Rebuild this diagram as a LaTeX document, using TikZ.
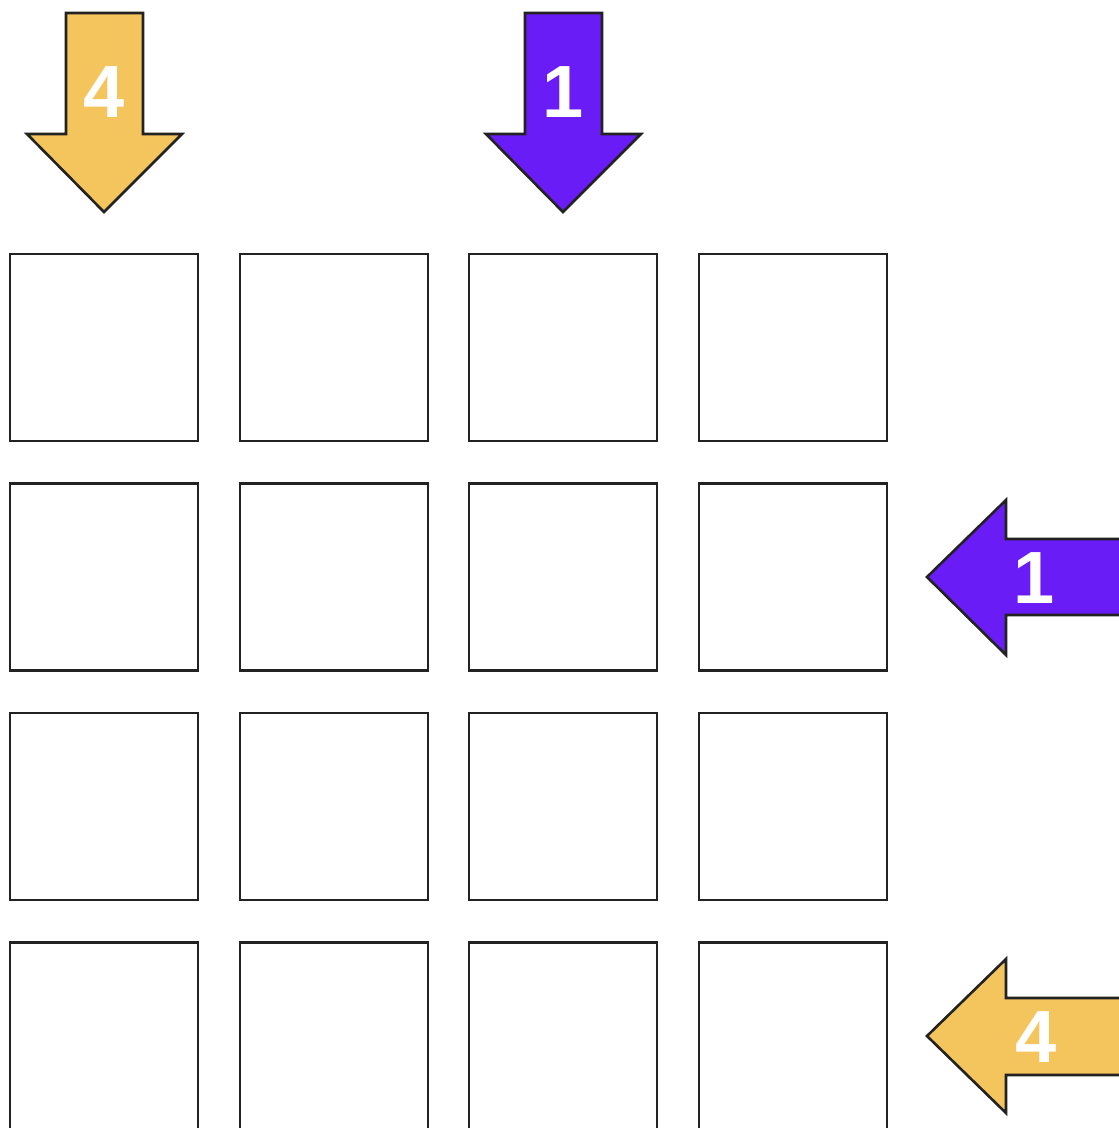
\documentclass[tikz,border=0pt]{standalone}
\usepackage{fontspec}
\setmainfont{Liberation Sans}
\definecolor{ayellow}{HTML}{F4C55C}
\definecolor{apurple}{HTML}{6A1CF6}
\definecolor{edge}{HTML}{222222}
\begin{document}
\begin{tikzpicture}[x=1pt,y=-1pt,
  cell/.style={draw=edge,line width=2.6pt,minimum width=188pt,minimum height=187pt,inner sep=0pt,fill=white},
  arrowshape/.style={draw=edge,line width=2.6pt,line join=miter},
  num/.style={text=white,font=\fontsize{74}{74}\selectfont\bfseries,inner sep=0pt}]
\useasboundingbox (0,0) rectangle (1119,1128);
\clip (0,0) rectangle (1119,1128);
% grid
\foreach \c/\x in {1/104,2/334,3/563,4/793}{
  \foreach \r/\y in {1/347.5,2/577,3/806.5,4/1036}{
    \node[cell] (c\r\c) at (\x,\y) {};
  }
}
% top arrows
\draw[arrowshape,fill=ayellow] (66,13) -- (143,13) -- (143,134) -- (182,134) -- (104,212) -- (27,134) -- (66,134) -- cycle;
\node[num] (t1) at (104,92) {4};
\draw[arrowshape,fill=apurple] (525,13) -- (602,13) -- (602,134) -- (641,134) -- (563,212) -- (486,134) -- (525,134) -- cycle;
\node[num] (t3) at (563,92) {1};
% right arrows
\draw[arrowshape,fill=apurple] (1130,539) -- (1006,539) -- (1006,500) -- (927,577) -- (1006,655) -- (1006,615) -- (1130,615) -- cycle;
\node[num] (r2) at (1034,578) {1};
\draw[arrowshape,fill=ayellow] (1130,998) -- (1006,998) -- (1006,959) -- (927,1036) -- (1006,1113) -- (1006,1075) -- (1130,1075) -- cycle;
\node[num] (r4) at (1036,1037) {4};
\end{tikzpicture}
\end{document}
